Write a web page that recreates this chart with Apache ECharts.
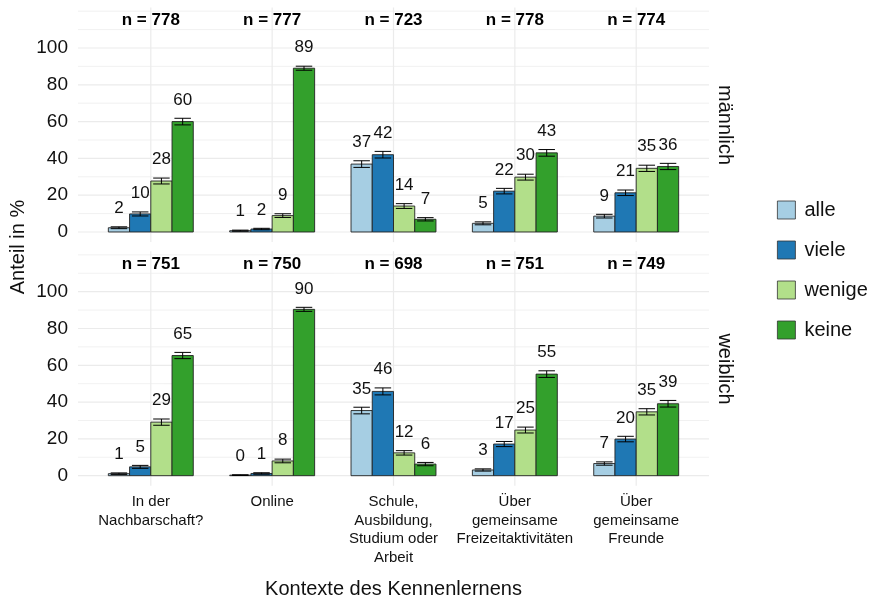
<!DOCTYPE html>
<html><head><meta charset="utf-8">
<script src="https://cdn.jsdelivr.net/npm/echarts@6/dist/echarts.min.js"></script>
<style>html,body{margin:0;padding:0;background:#fff}#c{width:870px;height:601px}</style>
</head><body><div id="c"></div>
<script>
// ---- data ----
const categories = ['In der\nNachbarschaft?', 'Online', 'Schule,\nAusbildung,\nStudium oder\nArbeit', 'Über\ngemeinsame\nFreizeitaktivitäten', 'Über\ngemeinsame\nFreunde'];
const levels = ['alle', 'viele', 'wenige', 'keine'];
const genders = ['männlich', 'weiblich'];
const nMaennlich = [778, 777, 723, 778, 774];
const nWeiblich = [751, 750, 698, 751, 749];

const mAlle   = [2.3, 0.7, 36.9, 4.7, 8.6];
const mViele  = [9.8, 1.6, 42.0, 22.2, 21.3];
const mWenige = [27.7, 8.9, 14.1, 29.8, 34.6];
const mKeine  = [60.0, 89.0, 6.9, 43.0, 35.6];
const wAlle   = [1.1, 0.3, 35.4, 3.1, 6.6];
const wViele  = [4.8, 1.2, 45.8, 17.2, 19.9];
const wWenige = [29.1, 8.0, 12.4, 24.8, 34.7];
const wKeine  = [65.3, 90.4, 6.3, 55.2, 39.1];

const mAlleErr   = [0.5, 0.3, 1.8, 0.8, 1.0];
const mVieleErr  = [1.1, 0.4, 1.8, 1.5, 1.5];
const mWenigeErr = [1.6, 1.0, 1.3, 1.6, 1.7];
const mKeineErr  = [1.8, 1.1, 0.9, 1.8, 1.7];
const wAlleErr   = [0.4, 0.2, 1.8, 0.6, 0.9];
const wVieleErr  = [0.8, 0.4, 1.9, 1.4, 1.5];
const wWenigeErr = [1.7, 1.0, 1.2, 1.6, 1.7];
const wKeineErr  = [1.7, 1.1, 0.9, 1.8, 1.8];

const yTickLabels = [0, 20, 40, 60, 80, 100];
const majorLines = [0, 20, 40, 60, 80, 100];
const minorLines = [10, 30, 50, 70, 90, 110, 120];

// ---- styles ----
const colors = ['#A6CEE3', '#1F78B4', '#B2DF8A', '#33A02C'];
const FONT = '"Liberation Sans", Arial, Helvetica, sans-serif';
const TXT = '#111';
const BAR_W = 0.175, CAP = 0.068, LABEL_GAP = 10, N_Y = 115;
const X_MIN = -0.6, X_MAX = 4.6, Y_MIN = -5.5, Y_MAX = 122;

const panels = [
  { vals: [mAlle, mViele, mWenige, mKeine], errs: [mAlleErr, mVieleErr, mWenigeErr, mKeineErr], n: nMaennlich },
  { vals: [wAlle, wViele, wWenige, wKeine], errs: [wAlleErr, wVieleErr, wWenigeErr, wKeineErr], n: nWeiblich }
];

function gridSeries(gi) {
  const data = [];
  minorLines.forEach(v => data.push([0, v, 0]));
  majorLines.forEach(v => data.push([0, v, 1]));
  categories.forEach((c, i) => data.push([1, i, 1]));
  return {
    type: 'custom', xAxisIndex: gi, yAxisIndex: gi, z: 1, silent: true,
    data: data, encode: { x: 2, y: 1 },
    renderItem: (params, api) => {
      const kind = api.value(0), v = api.value(1), major = api.value(2);
      let a, b;
      if (kind === 0) { a = api.coord([X_MIN, v]); b = api.coord([X_MAX, v]); }
      else { a = api.coord([v, Y_MIN]); b = api.coord([v, Y_MAX]); }
      return { type: 'line', shape: { x1: a[0], y1: a[1], x2: b[0], y2: b[1] },
        style: { stroke: '#EBEBEB', lineWidth: major ? 1.2 : 0.7 } };
    }
  };
}

function barSeries(gi, si) {
  const vals = panels[gi].vals[si], errs = panels[gi].errs[si];
  return {
    type: 'custom', name: levels[si], xAxisIndex: gi, yAxisIndex: gi, z: 3,
    itemStyle: { color: colors[si] },
    data: vals.map((v, i) => [i, v, errs[i]]),
    encode: { x: 0, y: 1 },
    renderItem: (params, api) => {
      const i = api.value(0), v = api.value(1), e = api.value(2);
      const xc = i + (si - 1.5) * BAR_W;
      const tl = api.coord([xc - BAR_W / 2, v]);
      const br = api.coord([xc + BAR_W / 2, 0]);
      const up = api.coord([xc, v + e]);
      const lo = api.coord([xc, v - e]);
      const cl = api.coord([xc - CAP, 0])[0], cr = api.coord([xc + CAP, 0])[0];
      const lab = api.coord([xc, v + e + LABEL_GAP]);
      const ls = { stroke: '#000', lineWidth: 1 };
      return { type: 'group', children: [
        { type: 'rect', shape: { x: tl[0], y: tl[1], width: br[0] - tl[0], height: br[1] - tl[1] },
          style: { fill: colors[si], stroke: '#222', lineWidth: 0.9 } },
        { type: 'line', shape: { x1: up[0], y1: up[1], x2: lo[0], y2: lo[1] }, style: ls },
        { type: 'line', shape: { x1: cl, y1: up[1], x2: cr, y2: up[1] }, style: ls },
        { type: 'line', shape: { x1: cl, y1: lo[1], x2: cr, y2: lo[1] }, style: ls },
        { type: 'text', x: lab[0], y: lab[1], style: { text: String(Math.round(v)), fill: TXT,
          font: '17px ' + FONT, align: 'center', verticalAlign: 'middle' } }
      ] };
    }
  };
}

function nSeries(gi) {
  return {
    type: 'custom', xAxisIndex: gi, yAxisIndex: gi, z: 4, silent: true,
    data: panels[gi].n.map((n, i) => [i, n]),
    encode: { x: 0 },
    renderItem: (params, api) => {
      const i = api.value(0), n = api.value(1);
      const p = api.coord([i, N_Y]);
      return { type: 'text', x: p[0], y: p[1], style: { text: 'n = ' + n, fill: '#000',
        font: 'bold 17px ' + FONT, align: 'center', verticalAlign: 'middle' } };
    }
  };
}

const grids = [
  { left: 78, width: 631, top: 7.5, height: 234.6 },
  { left: 78, width: 631, top: 251.2, height: 234.6 }
];

const xAxes = grids.map((g, gi) => ({
  type: 'value', gridIndex: gi, min: X_MIN, max: X_MAX,
  axisLine: { show: false }, axisTick: { show: false }, splitLine: { show: false },
  axisLabel: gi === 1 ? {
    show: true, customValues: [0, 1, 2, 3, 4], formatter: v => categories[Math.round(v)],
    fontSize: 15, lineHeight: 18.5, color: TXT, fontFamily: FONT, margin: 7, align: 'center', verticalAlign: 'top'
  } : { show: false }
}));

const yAxes = grids.map((g, gi) => ({
  type: 'value', gridIndex: gi, min: Y_MIN, max: Y_MAX,
  axisLine: { show: false }, axisTick: { show: false }, splitLine: { show: false },
  axisLabel: { customValues: yTickLabels, fontSize: 19, color: TXT, fontFamily: FONT, margin: 10 }
}));

const series = [];
[0, 1].forEach(gi => {
  series.push(gridSeries(gi));
  [0, 1, 2, 3].forEach(si => series.push(barSeries(gi, si)));
  series.push(nSeries(gi));
});

const chart = echarts.init(document.getElementById('c'), null, { renderer: 'canvas' });
chart.setOption({
  animation: false,
  backgroundColor: '#fff',
  textStyle: { fontFamily: FONT },
  grid: grids,
  xAxis: xAxes,
  yAxis: yAxes,
  legend: {
    orient: 'vertical', left: 777, top: 200, padding: 0,
    itemWidth: 18, itemHeight: 18, itemGap: 20, icon: 'rect',
    selectedMode: false,
    textStyle: { fontSize: 20, color: TXT, fontFamily: FONT, padding: [0, 0, 0, 4] },
    data: levels.map((n, i) => ({ name: n, itemStyle: { color: colors[i], borderColor: '#333', borderWidth: 0.8 } }))
  },
  graphic: [
    { type: 'text', x: 393.5, y: 589, style: { text: 'Kontexte des Kennenlernens', fill: TXT,
      font: '20px ' + FONT, align: 'center', verticalAlign: 'middle' } },
    { type: 'text', x: 18, y: 247, rotation: Math.PI / 2, style: { text: 'Anteil in %', fill: TXT,
      font: '20px ' + FONT, align: 'center', verticalAlign: 'middle' } },
    { type: 'text', x: 725, y: 125, rotation: -Math.PI / 2, style: { text: genders[0], fill: TXT,
      font: '20px ' + FONT, align: 'center', verticalAlign: 'middle' } },
    { type: 'text', x: 725, y: 369, rotation: -Math.PI / 2, style: { text: genders[1], fill: TXT,
      font: '20px ' + FONT, align: 'center', verticalAlign: 'middle' } }
  ],
  series: series
});
</script></body></html>
